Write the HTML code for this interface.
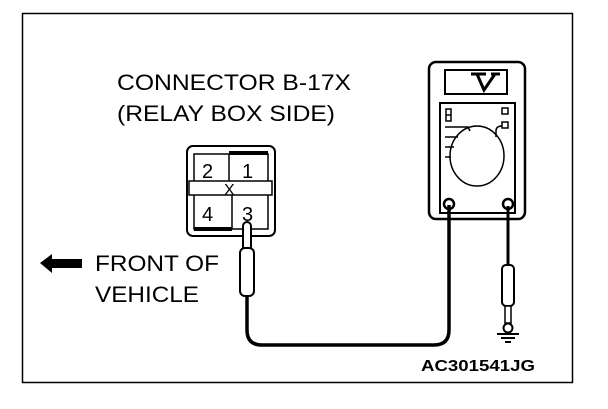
<!DOCTYPE html>
<html><head><style>
body{margin:0;background:#fff;width:608px;height:404px;overflow:hidden}
text{font-family:"Liberation Sans",sans-serif;fill:#000}
</style></head><body>
<svg width="608" height="404" viewBox="0 0 608 404" xmlns="http://www.w3.org/2000/svg">
<rect x="22.5" y="13.5" width="550" height="369" fill="none" stroke="#000" stroke-width="1.5"/>
<text x="117" y="90" font-size="22" textLength="234" lengthAdjust="spacingAndGlyphs">CONNECTOR B-17X</text>
<text x="117" y="121" font-size="22" textLength="218" lengthAdjust="spacingAndGlyphs">(RELAY BOX SIDE)</text>
<!-- connector -->
<g stroke="#000" fill="none">
<rect x="187" y="146" width="88" height="90" rx="6" stroke-width="2"/>
<rect x="194" y="154" width="74" height="75" stroke-width="1.5"/>
<line x1="229" y1="153" x2="268" y2="153" stroke-width="4"/>
<line x1="194" y1="229" x2="232" y2="229" stroke-width="4"/>
<rect x="189" y="181" width="83" height="14" fill="#fff" stroke-width="1.5"/>
<line x1="229" y1="154" x2="229" y2="181" stroke-width="1.5"/>
<line x1="232" y1="195" x2="232" y2="229" stroke-width="1.5"/>
</g>
<text x="202" y="178" font-size="20">2</text>
<text x="242" y="178" font-size="20">1</text>
<text x="224" y="195" font-size="16">X</text>
<text x="202" y="221" font-size="20">4</text>
<text x="242" y="221" font-size="20">3</text>
<!-- left probe -->
<g stroke="#000" fill="#fff">
<rect x="243" y="222" width="8" height="30" rx="4" stroke-width="2"/>
<rect x="240" y="248" width="14" height="48" rx="5" stroke-width="2"/>
</g>
<path d="M247 296 V330 Q247 345 262 345 H434 Q449 345 449 330 V205" fill="none" stroke="#000" stroke-width="3.5"/>
<!-- arrow -->
<polygon points="40,263 52,254 52,259 82,259 82,268 52,268 52,273" fill="#000"/>
<text x="95" y="271" font-size="22" textLength="124" lengthAdjust="spacingAndGlyphs">FRONT OF</text>
<text x="95" y="302" font-size="22" textLength="104" lengthAdjust="spacingAndGlyphs">VEHICLE</text>
<!-- meter -->
<g stroke="#000" fill="none" stroke-width="2.5">
<rect x="429" y="62" width="96" height="157" rx="7"/>
<rect x="445" y="70" width="62" height="24" stroke-width="2"/>
<rect x="440" y="103" width="75" height="110" stroke-width="2"/>
<rect x="446" y="109" width="5" height="12" stroke-width="1.5"/>
<line x1="446" y1="115" x2="451" y2="115" stroke-width="1.5"/>
<rect x="502" y="108" width="6" height="6" stroke-width="1.5"/>
<rect x="502" y="122" width="6" height="6" stroke-width="1.5"/>
<ellipse cx="477" cy="156" rx="27" ry="30" stroke-width="1.5"/>
<path d="M445 127 H468 L470 131 M445 137 H458 M445 147 H454 M445 157 H451 M496 137 V131 Q496 126 502 126" stroke-width="1.5"/>
<circle cx="449" cy="204" r="5"/>
<circle cx="508" cy="204" r="5"/>
</g>
<path d="M471 74 H486 M477 74 L484 90 L495 74 M491 74 H500" stroke="#000" stroke-width="3" fill="none"/>
<!-- right probe -->
<line x1="508" y1="206" x2="508" y2="266" stroke="#000" stroke-width="3"/>
<rect x="502" y="265" width="12" height="41" rx="4" fill="#fff" stroke="#000" stroke-width="2"/>
<rect x="505" y="306" width="6" height="17" fill="#fff" stroke="#000" stroke-width="1.5"/>
<circle cx="508" cy="328" r="4.5" fill="#fff" stroke="#000" stroke-width="2"/>
<path d="M497 334 H519 M501 338 H515 M505 342 H511" stroke="#000" stroke-width="2"/>
<text x="421" y="371" font-size="16" font-weight="bold" textLength="114" lengthAdjust="spacingAndGlyphs">AC301541JG</text>
</svg>
</body></html>
